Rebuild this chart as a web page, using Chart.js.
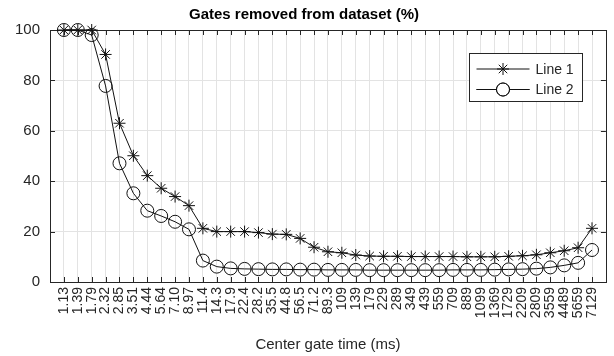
<!DOCTYPE html>
<html>
<head>
<meta charset="utf-8">
<script src="https://cdn.jsdelivr.net/npm/chart.js@4/dist/chart.umd.min.js"></script>
<style>
html, body { margin: 0; padding: 0; background: #fff; }
canvas { display: block; }
</style>
</head>
<body>
<canvas id="gateChart" width="614" height="356"></canvas>
<script>
// center gate times (ms), one tick per gate
var gateTimes = ['1.13', '1.39', '1.79', '2.32', '2.85', '3.51', '4.44', '5.64', '7.10', '8.97',
  '11.4', '14.3', '17.9', '22.4', '28.2', '35.5', '44.8', '56.5', '71.2', '89.3',
  '109', '139', '179', '229', '289', '349', '439', '559', '709', '889',
  '1099', '1369', '1729', '2209', '2809', '3559', '4489', '5659', '7129'];

// percent of gates removed
var line1 = [100, 100, 100, 90.3, 63.0, 50.1, 42.2, 37.2, 33.9, 30.3,
  21.3, 20.0, 20.0, 20.0, 19.6, 19.0, 18.9, 17.3, 13.8, 12.0,
  11.6, 10.7, 10.3, 10.2, 10.2, 10.1, 10.1, 10.1, 10.1, 10.0,
  10.0, 10.0, 10.2, 10.4, 10.8, 11.6, 12.4, 13.6, 21.3];
var line2 = [100, 100, 98.0, 77.8, 47.1, 35.2, 28.3, 26.2, 23.9, 20.9,
  8.5, 6.1, 5.4, 5.2, 5.1, 5.0, 5.0, 4.9, 4.9, 4.8,
  4.8, 4.8, 4.7, 4.7, 4.7, 4.7, 4.7, 4.7, 4.8, 4.8,
  4.8, 4.9, 5.0, 5.1, 5.3, 5.8, 6.6, 7.6, 12.7];

var yTicks = [0, 20, 40, 60, 80, 100];

var FONT = '"Liberation Sans", Arial, Helvetica, sans-serif';
var INK = '#262626';

function toPoints(arr) {
  return arr.map(function (v, i) { return { x: i + 1, y: v }; });
}

// axes box with inward tick marks
var axesBox = {
  id: 'axesBox',
  beforeDatasetsDraw: function (chart) {
    var ctx = chart.ctx, a = chart.chartArea;
    var xs = chart.scales.x, ys = chart.scales.y;
    var len = 5;
    ctx.save();
    ctx.strokeStyle = INK;
    ctx.lineWidth = 1;
    ctx.beginPath();
    xs.ticks.forEach(function (t) {
      var px = Math.round(xs.getPixelForValue(t.value)) + 0.5;
      ctx.moveTo(px, a.bottom); ctx.lineTo(px, a.bottom - len);
      ctx.moveTo(px, a.top); ctx.lineTo(px, a.top + len);
    });
    yTicks.forEach(function (v) {
      var py = Math.round(ys.getPixelForValue(v)) + 0.5;
      ctx.moveTo(a.left, py); ctx.lineTo(a.left + len, py);
      ctx.moveTo(a.right, py); ctx.lineTo(a.right - len, py);
    });
    ctx.stroke();
    ctx.strokeRect(Math.round(a.left) + 0.5, Math.round(a.top) + 0.5,
      Math.round(a.right - a.left), Math.round(a.bottom - a.top));
    ctx.restore();
  }
};

// legend with line + marker samples
var lineLegend = {
  id: 'lineLegend',
  afterDraw: function (chart) {
    var ctx = chart.ctx, a = chart.chartArea;
    var w = 113, h = 48;
    var x0 = Math.round(a.right - 24 - w) + 0.5, y0 = Math.round(a.top + 23) + 0.5;
    ctx.save();
    ctx.fillStyle = '#fff';
    ctx.fillRect(x0, y0, w, h);
    ctx.strokeStyle = INK;
    ctx.lineWidth = 1;
    ctx.strokeRect(x0, y0, w, h);
    chart.data.datasets.forEach(function (ds, i) {
      var cy = y0 + 15.5 + i * 20.5;
      ctx.strokeStyle = ds.borderColor;
      ctx.lineWidth = 1;
      ctx.beginPath();
      ctx.moveTo(x0 + 7, cy);
      ctx.lineTo(x0 + 60, cy);
      ctx.stroke();
      // hollow marker, same as the plotted points
      ctx.fillStyle = '#fff';
      ctx.strokeStyle = ds.pointBorderColor;
      Chart.helpers.drawPoint(ctx, {
        pointStyle: ds.pointStyle, radius: ds.pointRadius, borderWidth: 1, rotation: 0
      }, x0 + 33.5, cy);
      if (ds.pointStyle === 'circle') {
        ctx.beginPath();
        ctx.moveTo(x0 + 7, cy);
        ctx.lineTo(x0 + 60, cy);
        ctx.stroke();
        ctx.fillStyle = '#fff';
        ctx.beginPath();
        ctx.arc(x0 + 33.5, cy, ds.pointRadius - 0.5, 0, Math.PI * 2);
        ctx.fill();
        ctx.beginPath();
        ctx.arc(x0 + 33.5, cy, ds.pointRadius, 0, Math.PI * 2);
        ctx.stroke();
      }
      ctx.fillStyle = INK;
      ctx.font = '14px ' + FONT;
      ctx.textBaseline = 'middle';
      ctx.textAlign = 'left';
      ctx.fillText(ds.label, x0 + 66, cy + 1);
    });
    ctx.restore();
  }
};

new Chart(document.getElementById('gateChart').getContext('2d'), {
  type: 'line',
  data: {
    datasets: [{
      label: 'Line 1',
      data: toPoints(line1),
      borderColor: '#111',
      backgroundColor: 'rgba(0,0,0,0)',
      borderWidth: 1,
      pointStyle: 'star',
      pointRadius: 6,
      pointBorderWidth: 1,
      pointBorderColor: '#111',
      pointBackgroundColor: 'rgba(0,0,0,0)',
      tension: 0,
      clip: false
    }, {
      label: 'Line 2',
      data: toPoints(line2),
      borderColor: '#111',
      backgroundColor: 'rgba(0,0,0,0)',
      borderWidth: 1,
      pointStyle: 'circle',
      pointRadius: 6.5,
      pointBorderWidth: 1,
      pointBorderColor: '#111',
      pointBackgroundColor: 'rgba(0,0,0,0)',
      tension: 0,
      clip: false
    }]
  },
  options: {
    responsive: false,
    animation: false,
    devicePixelRatio: 1,
    layout: { padding: { left: 0, right: 6, top: 0, bottom: 0 } },
    plugins: {
      legend: { display: false },
      tooltip: { enabled: false },
      title: {
        display: true,
        text: 'Gates removed from dataset (%)',
        color: '#000',
        font: { family: FONT, size: 15, weight: 'bold' },
        padding: { top: 6, bottom: 6 }
      }
    },
    scales: {
      x: {
        type: 'linear',
        min: 0,
        max: 40,
        afterBuildTicks: function (scale) {
          scale.ticks = gateTimes.map(function (_, i) { return { value: i + 1 }; });
        },
        afterFit: function (scale) { scale.height = 74; },
        ticks: {
          autoSkip: false,
          maxRotation: 90,
          minRotation: 90,
          padding: 5,
          color: INK,
          font: { family: FONT, size: 14 },
          callback: function (v) { return gateTimes[v - 1] || ''; }
        },
        grid: { color: '#e3e3e3', drawTicks: false },
        border: { display: false },
        title: {
          display: true,
          text: 'Center gate time (ms)',
          color: INK,
          font: { family: FONT, size: 15 },
          padding: { top: 0, bottom: 2 }
        }
      },
      y: {
        min: 0,
        max: 100,
        afterBuildTicks: function (scale) {
          scale.ticks = yTicks.map(function (v) { return { value: v }; });
        },
        afterFit: function (scale) { scale.width = 50; },
        ticks: {
          padding: 10,
          color: INK,
          font: { family: FONT, size: 15 }
        },
        grid: {
          color: function (c) {
            return (c.tick && (c.tick.value === 0 || c.tick.value === 100)) ? 'rgba(0,0,0,0)' : '#e3e3e3';
          },
          drawTicks: false
        },
        border: { display: false }
      }
    }
  },
  plugins: [axesBox, lineLegend]
});
</script>
</body>
</html>
